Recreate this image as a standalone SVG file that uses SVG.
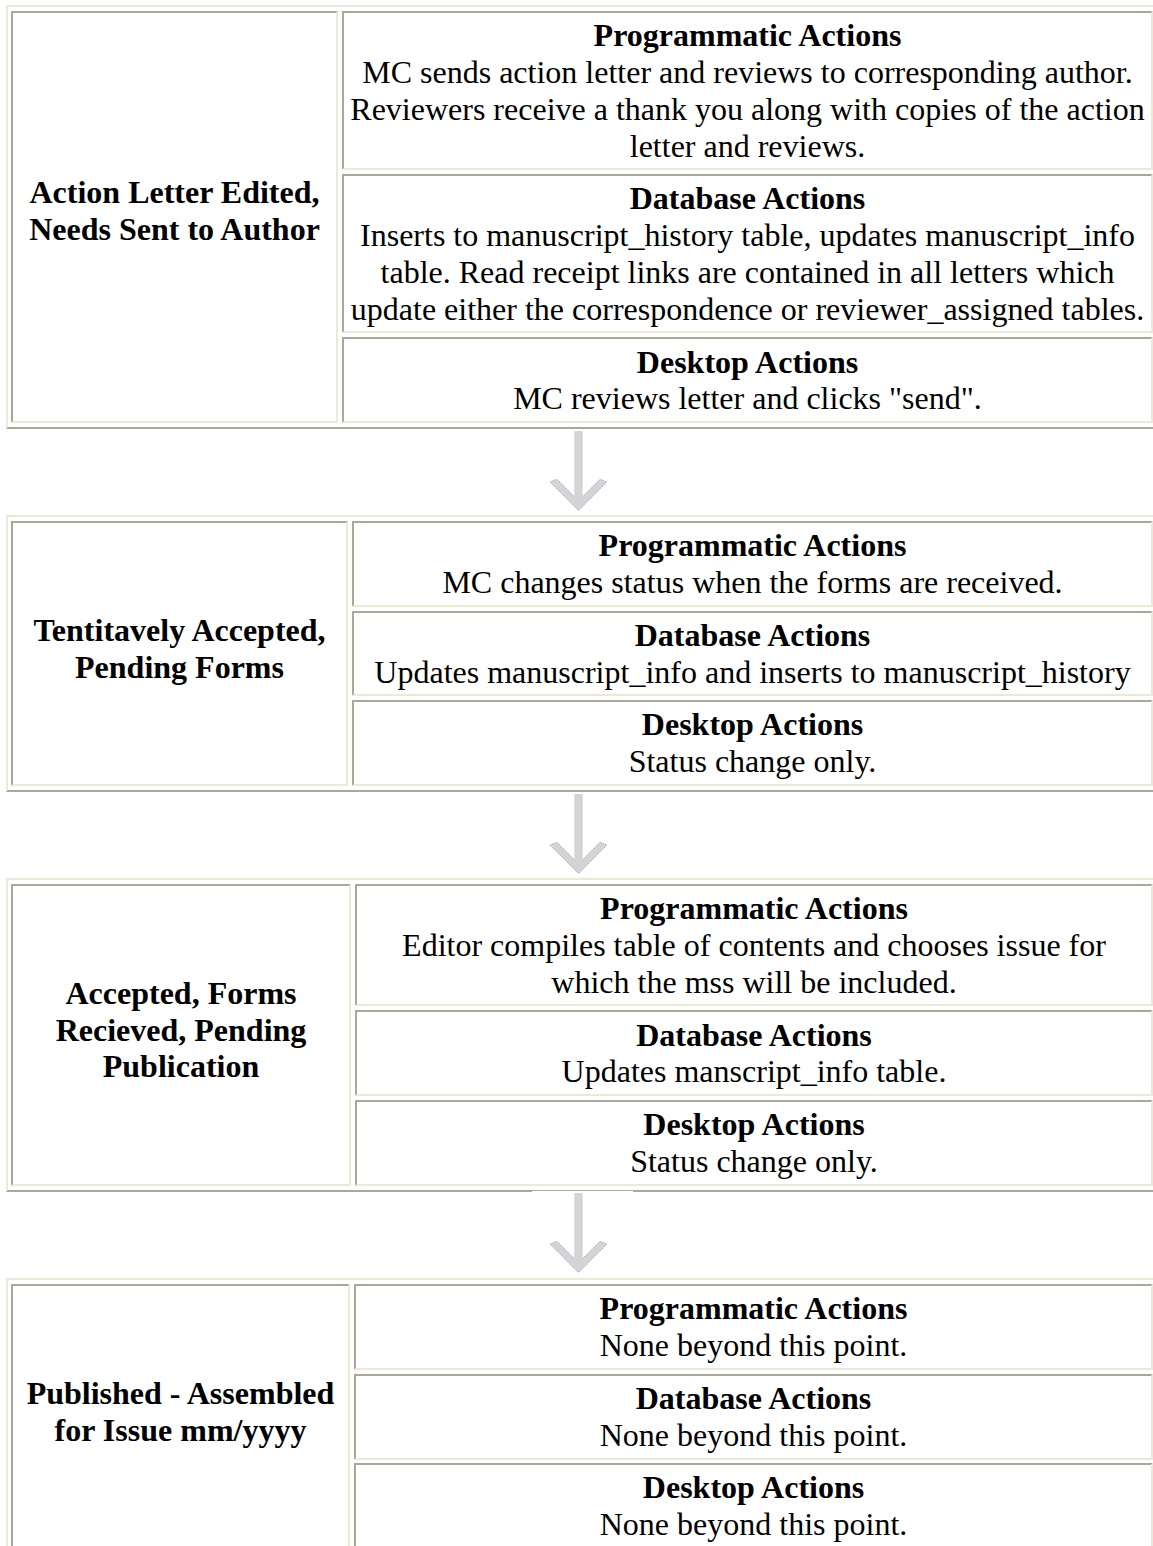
<svg xmlns="http://www.w3.org/2000/svg" xmlns:xlink="http://www.w3.org/1999/xlink" width="1153" height="1546" viewBox="0 0 1153 1546">
<style>
.lt{fill:#ECE9D8}
.dk{fill:#ACA899}
text{font-family:"Liberation Serif","Times New Roman",serif;font-size:32px;fill:#000;text-anchor:middle}
.b{font-weight:bold}
.ah{fill:#D4D4D4}
.ao{fill:none;stroke:#A8A8DA;stroke-width:1;stroke-dasharray:1.5 1}
</style>
<defs>
<g id="arrow">
<polygon class="ah" points="-4.2,0 4.2,0 4.2,65.6 21.5,48.3 28.5,51 0,79.5 -28.5,51 -21.5,48.3 -4.2,65.6"/>
<polyline class="ao" points="4.2,65.6 21.5,48.3 28.5,51 0,79.5 -28.5,51 -21.5,48.3 -4.2,65.6"/>
</g>
</defs>
<rect width="1153" height="1546" fill="#fff"/>

<g id="connectors">
<use xlink:href="#arrow" href="#arrow" transform="translate(578.5,431)"/>
<use xlink:href="#arrow" href="#arrow" transform="translate(578.5,794)"/>
<use xlink:href="#arrow" href="#arrow" transform="translate(578.5,1193)"/>
</g>

<g id="node-1">
<path class="lt" d="M6,429V5H1160V7H8V427Z"/>
<path class="dk" d="M6,429L8,427H1160V429Z"/>
<path class="dk" d="M11,423V11H338L336,13H13V421Z"/><path class="lt" d="M338,11V423H11L13,421H336V13Z"/>
<path class="dk" d="M342,170V11H1153L1151,13H344V168Z"/><path class="lt" d="M1153,11V170H342L344,168H1151V13Z"/>
<path class="dk" d="M342,333V174H1153L1151,176H344V331Z"/><path class="lt" d="M1153,174V333H342L344,331H1151V176Z"/>
<path class="dk" d="M342,423V337H1153L1151,339H344V421Z"/><path class="lt" d="M1153,337V423H342L344,421H1151V339Z"/>
<text class="b" x="174.5" y="203.4">Action Letter Edited,</text>
<text class="b" x="174.5" y="240.2">Needs Sent to Author</text>
<text class="b" x="747.5" y="46.2">Programmatic Actions</text>
<text x="747.5" y="83">MC sends action letter and reviews to corresponding author.</text>
<text x="747.5" y="119.8">Reviewers receive a thank you along with copies of the action</text>
<text x="747.5" y="156.6">letter and reviews.</text>
<text class="b" x="747.5" y="209.4">Database Actions</text>
<text x="747.5" y="246.2">Inserts to manuscript_history table, updates manuscript_info</text>
<text x="747.5" y="283">table. Read receipt links are contained in all letters which</text>
<text x="747.5" y="319.8">update either the correspondence or reviewer_assigned tables.</text>
<text class="b" x="747.5" y="372.6">Desktop Actions</text>
<text x="747.5" y="409.4">MC reviews letter and clicks "send".</text>
</g>

<g id="node-2">
<path class="lt" d="M6,792V515H1160V517H8V790Z"/>
<path class="dk" d="M6,792L8,790H1160V792Z"/>
<path class="dk" d="M11,786V521H348L346,523H13V784Z"/><path class="lt" d="M348,521V786H11L13,784H346V523Z"/>
<path class="dk" d="M352,607V521H1153L1151,523H354V605Z"/><path class="lt" d="M1153,521V607H352L354,605H1151V523Z"/>
<path class="dk" d="M352,696V611H1153L1151,613H354V694Z"/><path class="lt" d="M1153,611V696H352L354,694H1151V613Z"/>
<path class="dk" d="M352,786V700H1153L1151,702H354V784Z"/><path class="lt" d="M1153,700V786H352L354,784H1151V702Z"/>
<text class="b" x="179.5" y="640.8">Tentitavely Accepted,</text>
<text class="b" x="179.5" y="677.6">Pending Forms</text>
<text class="b" x="752.5" y="556.2">Programmatic Actions</text>
<text x="752.5" y="593">MC changes status when the forms are received.</text>
<text class="b" x="752.5" y="645.8">Database Actions</text>
<text x="752.5" y="682.6">Updates manuscript_info and inserts to manuscript_history</text>
<text class="b" x="752.5" y="735.4">Desktop Actions</text>
<text x="752.5" y="772.2">Status change only.</text>
</g>

<g id="node-3">
<path class="lt" d="M6,1192V878H1160V880H8V1190Z"/>
<path class="dk" d="M6,1192L8,1190H1160V1192Z"/>
<path class="dk" d="M11,1186V884H351L349,886H13V1184Z"/><path class="lt" d="M351,884V1186H11L13,1184H349V886Z"/>
<path class="dk" d="M355,1006V884H1153L1151,886H357V1004Z"/><path class="lt" d="M1153,884V1006H355L357,1004H1151V886Z"/>
<path class="dk" d="M355,1096V1010H1153L1151,1012H357V1094Z"/><path class="lt" d="M1153,1010V1096H355L357,1094H1151V1012Z"/>
<path class="dk" d="M355,1186V1100H1153L1151,1102H357V1184Z"/><path class="lt" d="M1153,1100V1186H355L357,1184H1151V1102Z"/>
<text class="b" x="181" y="1003.8">Accepted, Forms</text>
<text class="b" x="181" y="1040.6">Recieved, Pending</text>
<text class="b" x="181" y="1077.4">Publication</text>
<text class="b" x="754" y="919.2">Programmatic Actions</text>
<text x="754" y="956">Editor compiles table of contents and chooses issue for</text>
<text x="754" y="992.8">which the mss will be included.</text>
<text class="b" x="754" y="1045.6">Database Actions</text>
<text x="754" y="1082.4">Updates manscript_info table.</text>
<text class="b" x="754" y="1135.2">Desktop Actions</text>
<text x="754" y="1172">Status change only.</text>
</g>
<rect x="532" y="1191" width="101" height="1" fill="#fff"/>

<g id="node-4">
<path class="lt" d="M6,1560V1278H1160V1280H8V1560Z"/>
<path class="dk" d="M11,1549V1284H350L348,1286H13V1547Z"/><path class="lt" d="M350,1284V1549H11L13,1547H348V1286Z"/>
<path class="dk" d="M354,1370V1284H1153L1151,1286H356V1368Z"/><path class="lt" d="M1153,1284V1370H354L356,1368H1151V1286Z"/>
<path class="dk" d="M354,1460V1374H1153L1151,1376H356V1458Z"/><path class="lt" d="M1153,1374V1460H354L356,1458H1151V1376Z"/>
<path class="dk" d="M354,1549V1463H1153L1151,1465H356V1547Z"/><path class="lt" d="M1153,1463V1549H354L356,1547H1151V1465Z"/>
<text class="b" x="180.5" y="1403.8">Published - Assembled</text>
<text class="b" x="180.5" y="1440.6">for Issue mm/yyyy</text>
<text class="b" x="753.5" y="1319.2">Programmatic Actions</text>
<text x="753.5" y="1356">None beyond this point.</text>
<text class="b" x="753.5" y="1408.8">Database Actions</text>
<text x="753.5" y="1445.6">None beyond this point.</text>
<text class="b" x="753.5" y="1498.4">Desktop Actions</text>
<text x="753.5" y="1535.2">None beyond this point.</text>
</g>
</svg>
